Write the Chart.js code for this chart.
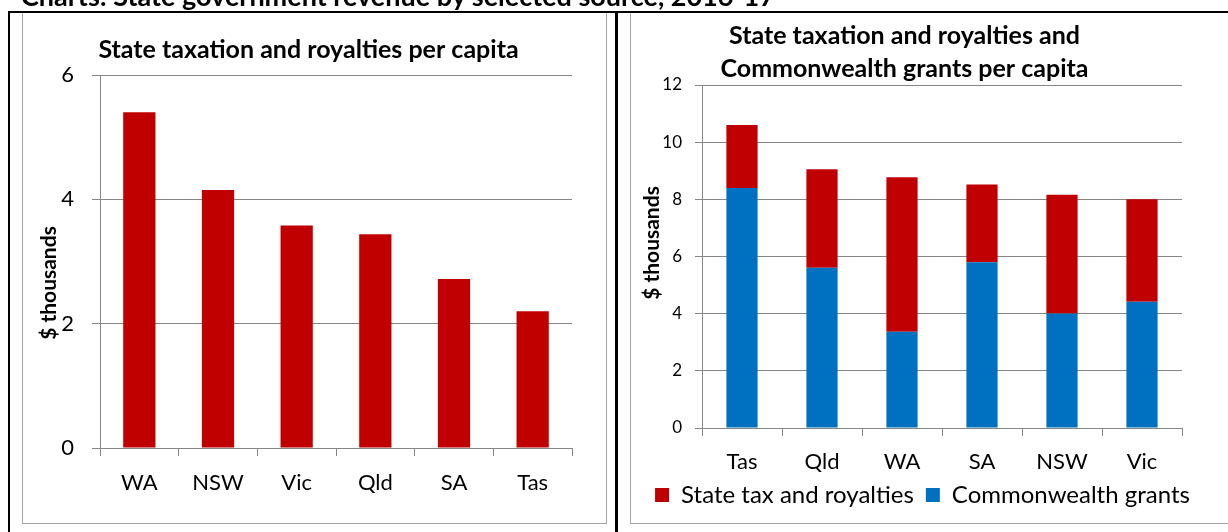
<!DOCTYPE html>
<html>
<head>
<meta charset="utf-8">
<title>State government revenue by selected source, 2016-17</title>
<script src="https://cdn.jsdelivr.net/npm/chart.js@4.4.1/dist/chart.umd.min.js"></script>
<style>
    html, body { margin: 0; padding: 0; background: #fff; }
    body { position: relative; width: 1228px; height: 532px; overflow: hidden; font-family: Lato, sans-serif; }
    .rule { position: absolute; background: #000; }
    .panel { position: absolute; border: 1px solid #a5a5a5; border-top: 0; box-sizing: border-box; }
    canvas { position: absolute; }
    #labels { position: absolute; left: 0; top: 0; pointer-events: none; }
</style>
</head>
<body>
<div class="rule" style="left:8px; top:11px; width:1220px; height:2px;"></div>
<div class="rule" style="left:8px; top:11px; width:2px; height:521px;"></div>
<div class="rule" style="left:615px; top:11px; width:3px; height:521px;"></div>
<div class="panel" style="left:22px; top:13px; width:585px; height:511px;"></div>
<div class="panel" style="left:630px; top:13px; width:620px; height:511px;"></div>
<canvas id="taxChart" width="583" height="510" style="left:23px; top:13px;"></canvas>
<canvas id="totalChart" width="597" height="510" style="left:631px; top:13px;"></canvas>
<svg id="labels" width="1228" height="532">
    <text x="21" y="6" font-size="27" font-weight="bold">Charts: State government revenue by selected source, 2016-17</text>
    <text transform="translate(47 283) rotate(-90)" text-anchor="middle" dominant-baseline="central" font-size="21" font-weight="bold">$ thousands</text>
    <text transform="translate(650 243) rotate(-90)" text-anchor="middle" dominant-baseline="central" font-size="21" font-weight="bold">$ thousands</text>
</svg>
<script>
// data, $ thousands per capita
const taxStates = ['WA', 'NSW', 'Vic', 'Qld', 'SA', 'Tas'];
const taxValues = [5.40, 4.15, 3.58, 3.44, 2.72, 2.20];
const taxTicks = [0, 2, 4, 6];

const totalStates = ['Tas', 'Qld', 'WA', 'SA', 'NSW', 'Vic'];
const totalTax = [2.20, 3.44, 5.40, 2.72, 4.15, 3.58];
const totalGrants = [8.40, 5.61, 3.37, 5.80, 4.01, 4.42];
const totalTicks = [0, 2, 4, 6, 8, 10, 12];

const axisGrey = '#868686';
const taxRed = '#C00000';
const grantBlue = '#0070C0';

Chart.defaults.font.family = 'Lato, sans-serif';
Chart.defaults.color = '#000';

// moves the title / legend boxes after layout
const nudge = {
    id: 'nudge',
    afterLayout(chart, args, opts) {
        if (opts.title && chart.titleBlock) {
            chart.titleBlock.left += opts.title;
            chart.titleBlock.right += opts.title;
        }
        if (chart.legend) {
            const dy = opts.legendY || 0;
            chart.legend.left += opts.legendX || 0;
            chart.legend.right += opts.legendX || 0;
            // raise the top only, so the box still reaches the bottom edge
            chart.legend.top += dy;
            chart.legend.height -= dy;
        }
    }
};

function useTicks(list) {
    return function (scale) {
        scale.ticks = list.map(v => ({ value: v }));
    };
}

// start: left chart
new Chart(document.getElementById('taxChart'), {
    type: 'bar',
    data: {
        labels: taxStates,
        datasets: [{
            label: 'State tax and royalties',
            data: taxValues,
            backgroundColor: taxRed,
            borderWidth: 0,
            barPercentage: 0.41,
            categoryPercentage: 1
        }]
    },
    options: {
        responsive: false,
        animation: false,
        devicePixelRatio: 1,
        layout: { padding: { right: 34 } },
        plugins: {
            legend: { display: false },
            tooltip: { enabled: false },
            title: {
                display: true,
                text: 'State taxation and royalties per capita',
                font: { size: 25, weight: 'bold', lineHeight: 1.2 },
                padding: { top: 22, bottom: 10 }
            },
            nudge: { title: 11 }
        },
        scales: {
            x: {
                grid: { offset: true, drawOnChartArea: false, tickLength: 8, color: axisGrey },
                border: { color: axisGrey },
                ticks: { font: { size: 22 }, padding: 14 },
                afterFit: s => { s.height = 75; }
            },
            y: {
                min: taxTicks[0],
                max: taxTicks[taxTicks.length - 1],
                afterBuildTicks: useTicks(taxTicks),
                grid: { tickLength: 8, color: axisGrey },
                border: { color: axisGrey },
                ticks: { font: { size: 22 }, padding: 18 },
                afterFit: s => { s.width = 77; }
            }
        }
    },
    plugins: [nudge]
});
// end: left chart

// start: right chart
new Chart(document.getElementById('totalChart'), {
    type: 'bar',
    data: {
        labels: totalStates,
        datasets: [
            {
                label: 'Commonwealth grants',
                data: totalGrants,
                backgroundColor: grantBlue,
                borderWidth: 0,
                barPercentage: 0.39,
                categoryPercentage: 1
            },
            {
                label: 'State tax and royalties',
                data: totalTax,
                backgroundColor: taxRed,
                borderWidth: 0,
                barPercentage: 0.39,
                categoryPercentage: 1
            }
        ]
    },
    options: {
        responsive: false,
        animation: false,
        devicePixelRatio: 1,
        plugins: {
            tooltip: { enabled: false },
            title: {
                display: true,
                text: ['State taxation and royalties and', 'Commonwealth grants per capita'],
                font: { size: 25, weight: 'bold', lineHeight: 1.32 },
                padding: { top: 6, bottom: 0 }
            },
            legend: {
                position: 'bottom',
                reverse: true,
                maxHeight: 40,
                labels: { boxWidth: 14, boxHeight: 14, padding: 12, font: { size: 24 } }
            },
            nudge: { title: -25, legendX: -7, legendY: -12 }
        },
        scales: {
            x: {
                stacked: true,
                grid: { offset: true, drawOnChartArea: false, tickLength: 8, color: axisGrey },
                border: { color: axisGrey },
                ticks: { font: { size: 22 }, padding: 13 },
                afterFit: s => { s.height = 55; }
            },
            y: {
                stacked: true,
                min: totalTicks[0],
                max: totalTicks[totalTicks.length - 1],
                afterBuildTicks: useTicks(totalTicks),
                grid: { tickLength: 7, color: axisGrey },
                border: { color: axisGrey },
                ticks: { font: { size: 17 }, padding: 13 },
                afterFit: s => { s.width = 71; }
            },
            // empty right-hand gutter, keeps the plot clear of the panel edge
            gutter: {
                position: 'right',
                grid: { display: false },
                border: { display: false },
                ticks: { display: false },
                afterFit: s => { s.width = 46; }
            }
        }
    },
    plugins: [nudge]
});
// end: right chart
</script>
</body>
</html>
